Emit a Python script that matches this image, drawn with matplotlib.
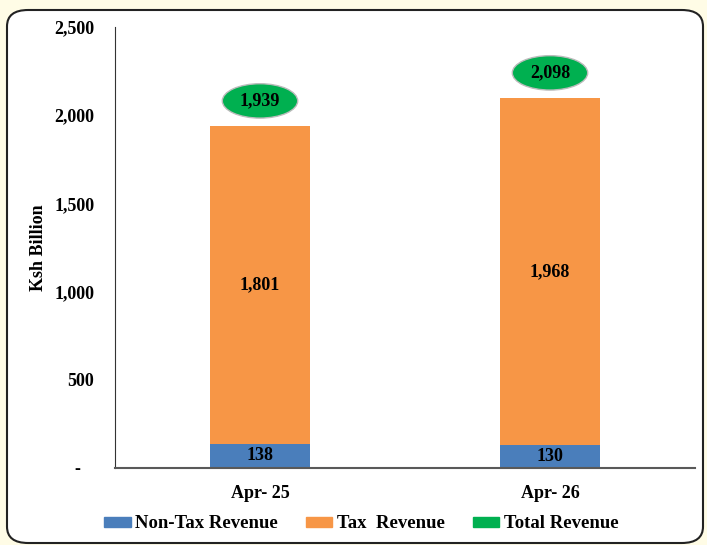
import matplotlib
matplotlib.use('Agg')
import matplotlib.pyplot as plt
from matplotlib.patches import FancyBboxPatch, Patch, Ellipse

# data
months = ['Apr- 25', 'Apr- 26']
non_tax = [138, 130]
tax = [1801, 1968]
total = [1939, 2098]
yticks = [0, 500, 1000, 1500, 2000, 2500]
ytick_labels = ['-   ', '500', '1,000', '1,500', '2,000', '2,500']

blue = '#4A7EBB'
orange = '#F79646'
green = '#00B050'

plt.rcParams['font.family'] = ['Liberation Serif', 'DejaVu Serif']
plt.rcParams['font.weight'] = 'bold'

fig = plt.figure(figsize=(7.07, 5.45), dpi=100)
fig.patch.set_facecolor('#FFFCE6')

# rounded white panel behind the chart
panel = FancyBboxPatch((7 / 707, 2 / 545), 696 / 707, 533 / 545,
                       boxstyle='round,pad=0,rounding_size=0.03',
                       transform=fig.transFigure, fc='white', ec='#222222',
                       lw=1.5, zorder=-5)
fig.patches.append(panel)

ax = fig.add_axes([115 / 707, 1 - 468 / 545, 580 / 707, 441 / 545])
ax.set_facecolor('none')

x = range(len(months))
w = 0.344
ax.bar(x, non_tax, width=w, color=blue, zorder=2)
ax.bar(x, tax, width=w, bottom=non_tax, color=orange, zorder=2)

for i in x:
    ax.text(i, non_tax[i] / 2, str(non_tax[i]), ha='center', va='center',
            fontsize=13, fontweight='bold')
    ax.text(i, non_tax[i] + tax[i] / 2, '{:,}'.format(tax[i]), ha='center',
            va='center', fontsize=13, fontweight='bold')
    # green oval callout above each bar (total revenue)
    yc = total[i] + 142
    ax.add_patch(Ellipse((i, yc), 0.26, 195, fc=green, ec='#BBBBBB', lw=1,
                         zorder=3))
    ax.text(i, yc, '{:,}'.format(total[i]), ha='center', va='center',
            fontsize=13, fontweight='bold', zorder=4)

ax.set_xlim(-0.5, 1.5)
ax.set_ylim(0, 2500)
ax.set_xticks(list(x))
ax.set_xticklabels(months, fontsize=13, fontweight='bold')
ax.set_yticks(yticks)
ax.set_yticklabels(ytick_labels, fontsize=13, fontweight='bold')
ax.tick_params(length=0, pad=15)
ax.tick_params(axis='x', pad=12)
for s in ['top', 'right']:
    ax.spines[s].set_visible(False)
ax.spines['left'].set_color('#333333')
ax.spines['bottom'].set_color('#595959')
ax.spines['bottom'].set_linewidth(1.5)
ax.set_ylabel('Ksh Billion', fontsize=13, fontweight='bold', labelpad=5)

handles = [Patch(color=blue, label='Non-Tax Revenue'),
           Patch(color=orange, label='Tax  Revenue'),
           Patch(color=green, label='Total Revenue')]
fig.legend(handles=handles, loc='center', bbox_to_anchor=(361.5 / 707, 1 - 524 / 545),
           ncol=3, frameon=False, fontsize=13.5, handlelength=1.4,
           handleheight=0.5, handletextpad=0.25, columnspacing=1.5)

fig.savefig('out.png', dpi=100, facecolor=fig.get_facecolor())
